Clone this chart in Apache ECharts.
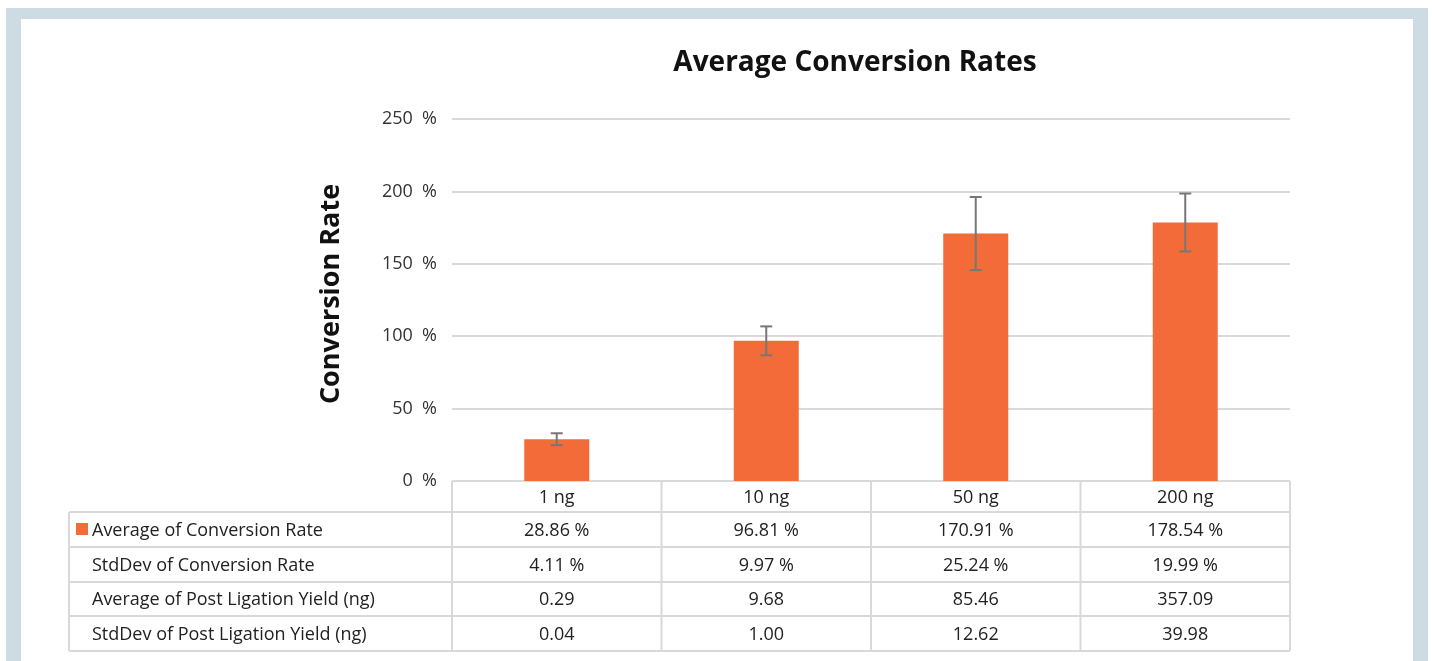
<!DOCTYPE html>
<html>
<head>
<meta charset="utf-8">
<script src="https://cdn.jsdelivr.net/npm/echarts@6/dist/echarts.min.js"></script>
<style>
html,body{margin:0;padding:0;background:#fff;width:1432px;height:661px;overflow:hidden;}
#frame{position:absolute;left:6px;top:8px;width:1422px;height:653px;background:#cddbe2;}
#inner{position:absolute;left:21px;top:19px;width:1392px;height:642px;background:#fff;}
#chart{position:absolute;left:0;top:0;width:1432px;height:661px;}
</style>
</head>
<body>
<div id="frame"></div>
<div id="inner"></div>
<div id="chart"></div>
<script>
const categories = ['1 ng', '10 ng', '50 ng', '200 ng'];
const avgConversion = [28.86, 96.81, 170.91, 178.54];
const sdConversion = [4.11, 9.97, 25.24, 19.99];
const avgYield = [0.29, 9.68, 85.46, 357.09];
const sdYield = [0.04, 1.00, 12.62, 39.98];
const rowLabels = [
  'Average of Conversion Rate',
  'StdDev of Conversion Rate',
  'Average of Post Ligation Yield (ng)',
  'StdDev of Post Ligation Yield (ng)'
];
const rowTexts = [
  avgConversion.map(v => v.toFixed(2) + ' %'),
  sdConversion.map(v => v.toFixed(2) + ' %'),
  avgYield.map(v => v.toFixed(2)),
  sdYield.map(v => v.toFixed(2))
];

const FONT = '"Open Sans", "Noto Sans", sans-serif';
const BAR = '#f26b38';
const LINE = '#d9d9d9';
const TXT = '#222';

const chart = echarts.init(document.getElementById('chart'), null, {renderer: 'canvas'});

const errData = categories.map((c, i) => [i, avgConversion[i] - sdConversion[i], avgConversion[i] + sdConversion[i]]);

const option = {
  backgroundColor: 'transparent',
  animation: false,
  textStyle: {fontFamily: FONT},
  title: {
    text: 'Average Conversion Rates',
    left: 850, top: 44, textAlign: 'center',
    textStyle: {fontFamily: FONT, fontSize: 28, fontWeight: 'bold', color: '#111'}
  },
  grid: {left: 452, top: 119, width: 838, height: 362, containLabel: false},
  xAxis: {
    type: 'category',
    data: categories,
    axisLine: {show: false},
    axisTick: {show: false},
    axisLabel: {fontFamily: FONT, fontSize: 18, color: TXT, margin: 8}
  },
  yAxis: {
    type: 'value',
    min: 0, max: 250, interval: 50,
    axisLine: {show: false},
    axisTick: {show: false},
    axisLabel: {formatter: '{value}  %', fontFamily: FONT, fontSize: 18, color: '#333', margin: 15, padding: [4, 0, 0, 0]},
    splitLine: {lineStyle: {color: LINE, width: 2}}
  },
  series: [
    {
      type: 'bar',
      data: avgConversion,
      barWidth: 65,
      itemStyle: {color: BAR},
      z: 2
    },
    {
      type: 'custom',
      data: errData,
      z: 5,
      renderItem: function (params, api) {
        const x = api.value(0);
        const lo = api.coord([x, api.value(1)]);
        const hi = api.coord([x, api.value(2)]);
        const hw = 6;
        const style = {stroke: '#777', lineWidth: 2};
        return {
          type: 'group',
          children: [
            {type: 'line', shape: {x1: lo[0], y1: lo[1], x2: hi[0], y2: hi[1]}, style: style},
            {type: 'line', shape: {x1: lo[0] - hw, y1: lo[1], x2: lo[0] + hw, y2: lo[1]}, style: style},
            {type: 'line', shape: {x1: hi[0] - hw, y1: hi[1], x2: hi[0] + hw, y2: hi[1]}, style: style}
          ]
        };
      }
    }
  ]
};
chart.setOption(option);

// Data table below the plot
const gridLeft = 452, gridRight = 1290, tableLeft = 69;
const rowLines = [481, 512, 547, 582, 616, 651];
const colWidth = (gridRight - gridLeft) / categories.length;
const graphics = [];
function hline(x1, x2, y) {
  graphics.push({type: 'line', shape: {x1: x1, y1: y, x2: x2, y2: y}, style: {stroke: LINE, lineWidth: 2}, z: 10});
}
function vline(x, y1, y2) {
  graphics.push({type: 'line', shape: {x1: x, y1: y1, x2: x, y2: y2}, style: {stroke: LINE, lineWidth: 2}, z: 10});
}
for (let r = 1; r < rowLines.length; r++) hline(tableLeft, gridRight, rowLines[r]);
vline(tableLeft, rowLines[1], rowLines[rowLines.length - 1]);
for (let c = 0; c <= categories.length; c++) {
  vline(gridLeft + c * colWidth, rowLines[0], rowLines[rowLines.length - 1]);
}
for (let r = 0; r < rowLabels.length; r++) {
  const yMid = (rowLines[r + 1] + rowLines[r + 2]) / 2 + 1;
  graphics.push({
    type: 'text', x: 92, y: yMid, z: 11,
    style: {text: rowLabels[r], fontFamily: FONT, fontSize: 18, fill: TXT, textVerticalAlign: 'middle', textAlign: 'left'}
  });
  for (let c = 0; c < categories.length; c++) {
    const cx = chart.convertToPixel({xAxisIndex: 0}, categories[c]);
    graphics.push({
      type: 'text', x: cx, y: yMid, z: 11,
      style: {text: rowTexts[r][c], fontFamily: FONT, fontSize: 18, fill: TXT, textVerticalAlign: 'middle', textAlign: 'center'}
    });
  }
}
// legend key
graphics.push({type: 'rect', shape: {x: 76, y: 523, width: 12, height: 12}, style: {fill: BAR}, z: 11});
// y axis title
graphics.push({
  type: 'text', x: 331, y: 294, rotation: Math.PI / 2, z: 11,
  style: {text: 'Conversion Rate', fontFamily: FONT, fontSize: 27, fontWeight: 'bold', fill: '#111', textAlign: 'center', textVerticalAlign: 'middle'}
});
chart.setOption({graphic: graphics});
</script>
</body>
</html>
